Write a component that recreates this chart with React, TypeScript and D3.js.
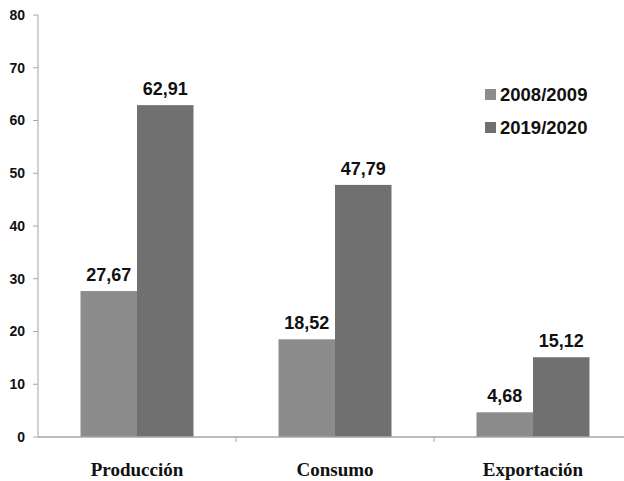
import React from "react";
import * as d3 from "d3";

const categories = ["Producción", "Consumo", "Exportación"];
const seriesNames = ["2008/2009", "2019/2020"];
const values2008 = [27.67, 18.52, 4.68];
const values2019 = [62.91, 47.79, 15.12];
const valueLabels2008 = ["27,67", "18,52", "4,68"];
const valueLabels2019 = ["62,91", "47,79", "15,12"];
const yTicks = [0, 10, 20, 30, 40, 50, 60, 70, 80];
const colors = ["#8c8c8c", "#707070"];

export default function App() {
  const W = 624;
  const H = 481;
  const x0 = 38;
  const bandW = 198;
  const x = d3
    .scaleBand<string>()
    .domain(categories)
    .range([x0, x0 + bandW * categories.length])
    .paddingInner(0)
    .paddingOuter(0);
  const inner = d3
    .scaleBand<string>()
    .domain(seriesNames)
    .range([42.5, bandW - 42.5]);
  const y = d3.scaleLinear().domain([0, 80]).range([437, 15]);
  const series = [
    { name: seriesNames[0], vals: values2008, labels: valueLabels2008 },
    { name: seriesNames[1], vals: values2019, labels: valueLabels2019 },
  ];
  const axisColor = "#a6a6a6";
  const sans = "'Liberation Sans', Arial, sans-serif";
  const serif = "'Liberation Serif', 'Times New Roman', serif";

  return (
    <svg
      width={W}
      height={H}
      style={{ position: "absolute", left: 0, top: 0, background: "#fff" }}
    >
      {series.map((s, si) =>
        categories.map((c, ci) => {
          const bx = (x(c) as number) + (inner(s.name) as number);
          const by = y(s.vals[ci]);
          return (
            <g key={`${si}-${ci}`}>
              <rect
                x={bx}
                y={by}
                width={inner.bandwidth()}
                height={y(0) - by}
                fill={colors[si]}
              />
              <text
                x={bx + inner.bandwidth() / 2}
                y={by - 10}
                textAnchor="middle"
                fontFamily={sans}
                fontWeight="bold"
                fontSize={18}
                fill="#111"
              >
                {s.labels[ci]}
              </text>
            </g>
          );
        })
      )}
      {/* y axis */}
      <line x1={x0} x2={x0} y1={y(80)} y2={y(0)} stroke={axisColor} strokeWidth={1} />
      {yTicks.map((t) => (
        <g key={t}>
          <line x1={x0 - 5} x2={x0} y1={y(t)} y2={y(t)} stroke={axisColor} />
          <text
            x={25}
            y={y(t)}
            dy="0.35em"
            textAnchor="end"
            fontFamily={sans}
            fontWeight="bold"
            fontSize={14}
            fill="#111"
          >
            {t}
          </text>
        </g>
      ))}
      {/* x axis */}
      <line x1={x0} x2={W} y1={y(0)} y2={y(0)} stroke={axisColor} strokeWidth={1.5} />
      {categories.slice(1).map((c) => (
        <line
          key={c}
          x1={x(c) as number}
          x2={x(c) as number}
          y1={y(0)}
          y2={y(0) + 5}
          stroke={axisColor}
        />
      ))}
      {categories.map((c) => (
        <text
          key={c}
          x={(x(c) as number) + bandW / 2}
          y={476}
          textAnchor="middle"
          fontFamily={serif}
          fontWeight="bold"
          fontSize={19}
          fill="#111"
        >
          {c}
        </text>
      ))}
      {/* legend */}
      {seriesNames.map((n, i) => (
        <g key={n} transform={`translate(485, ${89 + i * 33})`}>
          <rect x={0} y={0} width={11} height={11} fill={colors[i]} />
          <text
            x={15}
            y={12}
            fontFamily={sans}
            fontWeight="bold"
            fontSize={18.5}
            fill="#111"
          >
            {n}
          </text>
        </g>
      ))}
    </svg>
  );
}
